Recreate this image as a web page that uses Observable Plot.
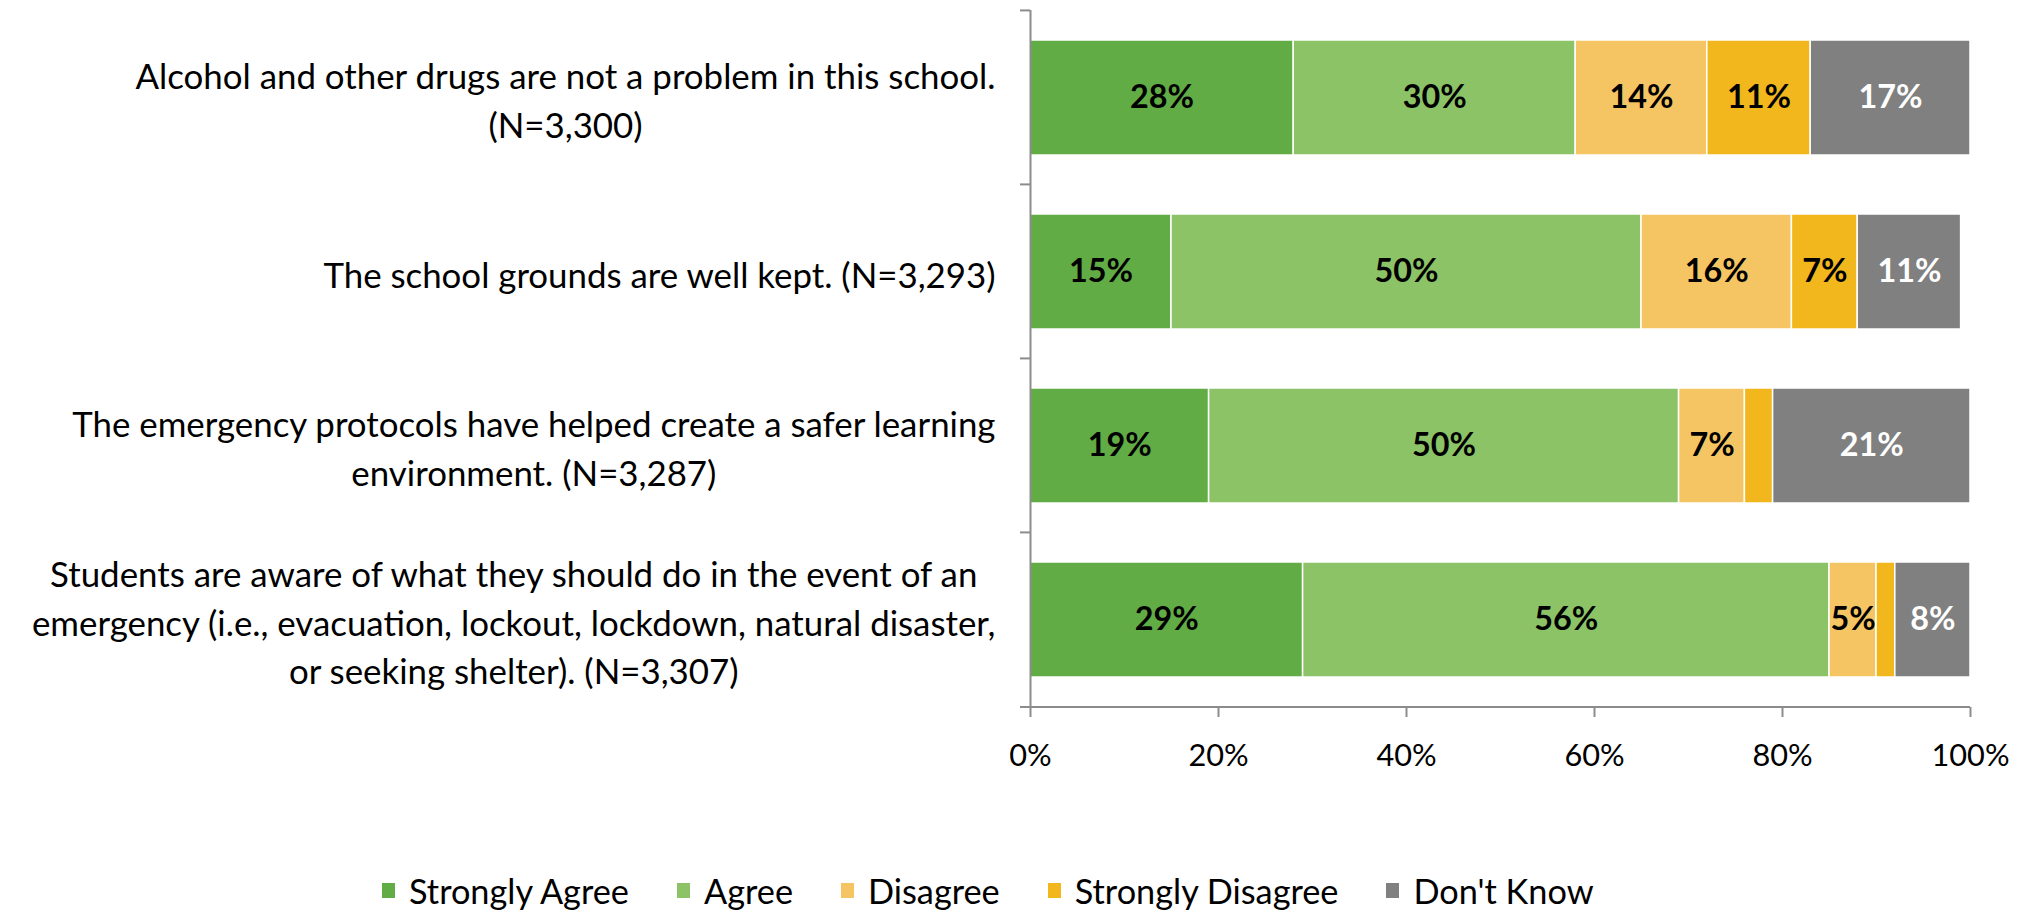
<!DOCTYPE html>
<html>
<head>
<meta charset="utf-8">
<script src="https://cdn.jsdelivr.net/npm/d3@7"></script>
<script src="https://cdn.jsdelivr.net/npm/@observablehq/plot@0.6"></script>
<style>
  html, body { margin: 0; padding: 0; background: #fff; }
  #wrap { position: relative; width: 2033px; height: 911px; font-family: Lato, "Open Sans", sans-serif; }
  #legend { position: absolute; left: 382px; top: 870px; display: flex; align-items: center; color: #000; }
  .item { display: flex; align-items: center; margin-right: 48px; }
  .sw { width: 13px; height: 15px; margin-right: 14px; }
</style>
</head>
<body>
<div id="wrap"></div>
<script>
const questions = [
  "Alcohol and other drugs are not a problem in this school.\n(N=3,300)",
  "The school grounds are well kept. (N=3,293)",
  "The emergency protocols have helped create a safer learning\nenvironment. (N=3,287)",
  "Students are aware of what they should do in the event of an\nemergency (i.e., evacuation, lockout, lockdown, natural disaster,\nor seeking shelter). (N=3,307)"
];
const responses = ["Strongly Agree", "Agree", "Disagree", "Strongly Disagree", "Don't Know"];
const colors = ["#62AC46", "#8CC367", "#F6C563", "#F2B71D", "#808080"];
const stronglyAgree = [28, 15, 19, 29];
const agree = [30, 50, 50, 56];
const disagree = [14, 16, 7, 5];
const stronglyDisagree = [11, 7, 3, 2];
const dontKnow = [17, 11, 21, 8];
const xTicks = [0, 20, 40, 60, 80, 100];

const series = [stronglyAgree, agree, disagree, stronglyDisagree, dontKnow];
const rows = [];
questions.forEach((q, i) => responses.forEach((r, j) => rows.push({q, resp: r, value: series[j][i]})));

const family = "Lato";
const ctx = document.createElement("canvas").getContext("2d");
function fit(text, weight, target) {
  ctx.font = `${weight} 100px ${family}`;
  return 100 * target / ctx.measureText(text).width;
}
const yFs = fit("Alcohol and other drugs are not a problem in this school.", "normal", 861);
const barFs = fit("28%", "bold", 64);
const tickFs = fit("100%", "normal", 78);
const legFs = fit("Strongly Agree", "normal", 222);

const axisGray = "#8c8c8c";
const tickSize = 10;
const tickPad = 765 - 707 - tickSize - 0.71 * tickFs;

const plot = Plot.plot({
  width: 2033,
  height: 800,
  marginLeft: 1030,
  marginRight: 63,
  marginTop: 10,
  marginBottom: 93,
  style: {fontFamily: family, background: "white", color: "black"},
  x: {domain: [0, 100]},
  y: {domain: questions, paddingInner: 0.34, paddingOuter: 0.17, axis: null},
  color: {domain: responses, range: colors},
  marks: [
    Plot.barX(rows, Plot.stackX({x: "value", y: "q", fill: "resp", order: responses, stroke: "white", strokeWidth: 1.5})),
    Plot.text(rows, Plot.stackX({x: "value", y: "q", z: "resp", order: responses,
      text: d => (d.resp !== "Don't Know" && d.value >= 5) ? d.value + "%" : "",
      fill: "black", fontWeight: "bold", fontSize: barFs})),
    Plot.text(rows, Plot.stackX({x: "value", y: "q", z: "resp", order: responses,
      text: d => (d.resp === "Don't Know" && d.value >= 5) ? d.value + "%" : "",
      fill: "white", fontWeight: "bold", fontSize: barFs})),
    Plot.text(questions, {y: d => d, text: d => d, frameAnchor: "left", dx: -35, textAnchor: "end",
      fontSize: yFs, lineHeight: 1.4, fill: "black"}),
    Plot.axisX({ticks: xTicks, tickFormat: d => d + "%", tickSize, tickPadding: tickPad,
      fontSize: tickFs, stroke: axisGray, strokeWidth: 2, fill: "black", label: null}),
    Plot.ruleX([0], {stroke: axisGray, strokeWidth: 2})
  ]
});

document.getElementById("wrap").appendChild(plot);

// band-boundary ticks on y axis and baseline of x axis, placed from the scales
const ys = plot.scale("y"), xs = plot.scale("x");
const svg = d3.select(plot);
const x0 = xs.apply(0), x1 = xs.apply(100);
const bounds = ys.domain.map(q => ys.apply(q) - ys.paddingInner * ys.step / 2);
bounds.push(ys.range[1]);
const g = svg.append("g").attr("stroke", axisGray).attr("stroke-width", 2);
bounds.forEach(b => g.append("line").attr("x1", x0 - tickSize).attr("x2", x0).attr("y1", b).attr("y2", b));
g.append("line").attr("x1", x0).attr("x2", x1).attr("y1", ys.range[1]).attr("y2", ys.range[1]);

// center the lines of multi-line labels within their right-aligned block
svg.selectAll("text").each(function() {
  const tspans = this.querySelectorAll("tspan");
  if (tspans.length < 2) return;
  let W = 0;
  tspans.forEach(t => W = Math.max(W, t.getComputedTextLength()));
  this.setAttribute("text-anchor", "middle");
  tspans.forEach(t => t.setAttribute("x", -W / 2));
});

// legend
const legend = document.createElement("div");
legend.id = "legend";
legend.style.fontSize = legFs + "px";
responses.forEach((r, i) => {
  const it = document.createElement("div");
  it.className = "item";
  const sw = document.createElement("span");
  sw.className = "sw";
  sw.style.background = colors[i];
  const tx = document.createElement("span");
  tx.textContent = r;
  it.appendChild(sw); it.appendChild(tx);
  legend.appendChild(it);
});
document.getElementById("wrap").appendChild(legend);
</script>
</body>
</html>
